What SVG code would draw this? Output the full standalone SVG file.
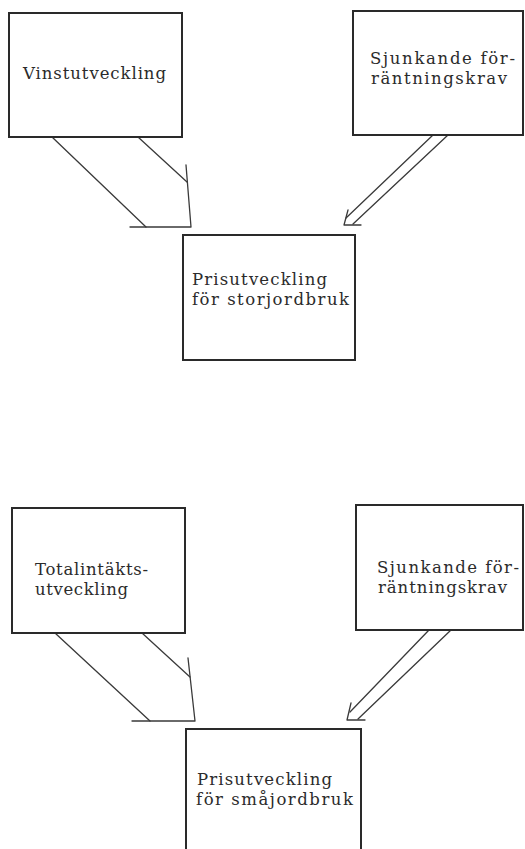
<svg xmlns="http://www.w3.org/2000/svg" width="525" height="849" viewBox="0 0 525 849">
<style>
.box{fill:#fff;stroke:#2a2a2a;stroke-width:2}
.ln{fill:none;stroke:#3a3a3a;stroke-width:1.3;stroke-linecap:round;stroke-linejoin:round}
text{font-family:"DejaVu Serif","Liberation Serif",serif;font-size:16.5px;fill:#2b2b2b}
</style>
<rect width="525" height="849" fill="#fff"/>
<g id="connectors">
<g id="arrow-vinst">
<line class="ln" x1="52" y1="137" x2="146" y2="227"/>
<line class="ln" x1="138" y1="137" x2="187" y2="182"/>
<polyline class="ln" points="186,165 191,227 130,227"/>
</g>
<g id="arrow-ranta-1">
<line class="ln" x1="433" y1="135" x2="346" y2="218"/>
<line class="ln" x1="448" y1="135" x2="353" y2="224"/>
<polyline class="ln" points="348,210 344,225 361,225"/>
</g>
<g id="arrow-total">
<line class="ln" x1="55" y1="633" x2="150" y2="721"/>
<line class="ln" x1="142" y1="633" x2="190" y2="677"/>
<polyline class="ln" points="188,658 195,721 132,721"/>
</g>
<g id="arrow-ranta-2">
<line class="ln" x1="429" y1="630" x2="350" y2="712"/>
<line class="ln" x1="451" y1="630" x2="358" y2="719"/>
<polyline class="ln" points="351,703 347,720 365,720"/>
</g>
</g>
<g id="vinstutveckling">
<rect class="box" x="9" y="13" width="173" height="124"/>
<text x="23" y="79" textLength="143" lengthAdjust="spacing">Vinstutveckling</text>
</g>
<g id="forrantningskrav-1">
<rect class="box" x="353" y="11" width="170" height="124"/>
<text x="370" y="64" textLength="145" lengthAdjust="spacing">Sjunkande för-</text>
<text x="371" y="84" textLength="136" lengthAdjust="spacing">räntningskrav</text>
</g>
<g id="pris-storjordbruk">
<rect class="box" x="183" y="235" width="172" height="125"/>
<text x="192" y="285" textLength="135" lengthAdjust="spacing">Prisutveckling</text>
<text x="192" y="305" textLength="157" lengthAdjust="spacing">för storjordbruk</text>
</g>
<g id="totalintakts">
<rect class="box" x="12" y="508" width="173" height="125"/>
<text x="35" y="575" textLength="113" lengthAdjust="spacing">Totalintäkts-</text>
<text x="35" y="595" textLength="93" lengthAdjust="spacing">utveckling</text>
</g>
<g id="forrantningskrav-2">
<rect class="box" x="356" y="505" width="167" height="125"/>
<text x="377" y="573" textLength="142" lengthAdjust="spacing">Sjunkande för-</text>
<text x="378" y="593" textLength="129" lengthAdjust="spacing">räntningskrav</text>
</g>
<g id="pris-smajordbruk">
<rect class="box" x="186" y="729" width="175" height="130"/>
<text x="197" y="785" textLength="135" lengthAdjust="spacing">Prisutveckling</text>
<text x="196" y="805" textLength="157" lengthAdjust="spacing">för småjordbruk</text>
</g>
</svg>
